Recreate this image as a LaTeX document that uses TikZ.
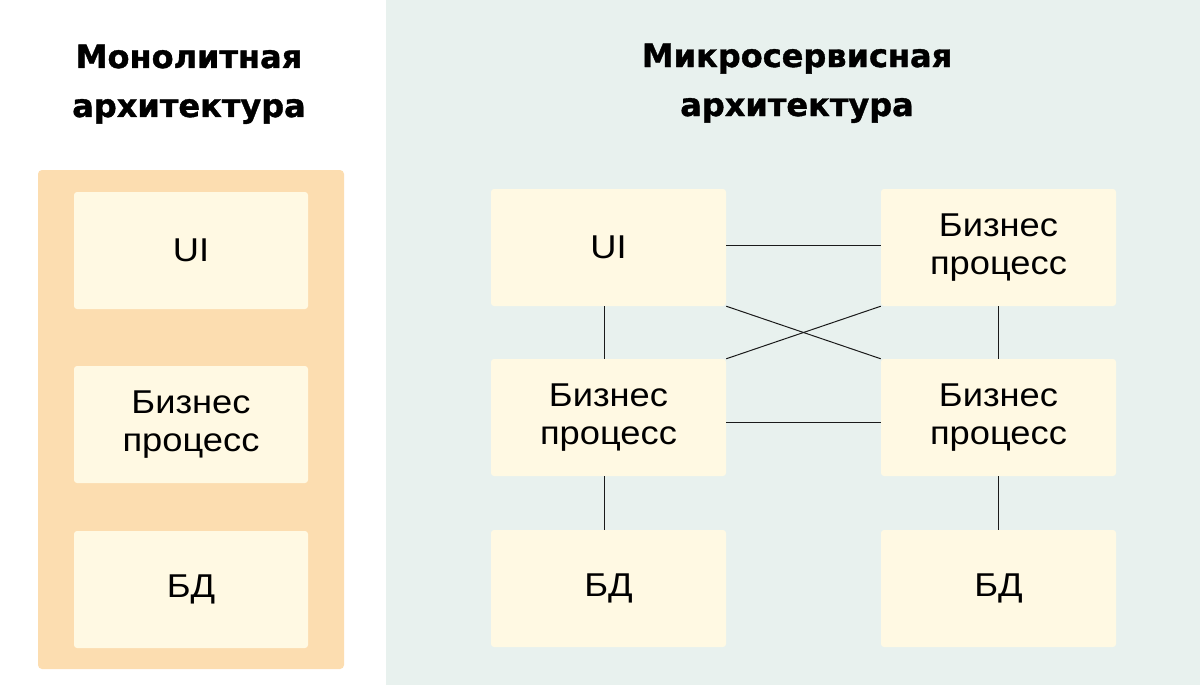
\documentclass[tikz,border=0pt]{standalone}
\usepackage{fontspec}
\setmainfont{Liberation Sans}[FakeStretch=1.1]
\newfontfamily\headfont{DejaVu Sans}[BoldFeatures={FakeBold=1.2}]
\definecolor{panelor}{HTML}{FCDDB0}
\definecolor{boxcream}{HTML}{FFF9E3}
\definecolor{bggreen}{HTML}{E8F1EE}
\definecolor{linec}{HTML}{1A1A1A}
\begin{document}
\begin{tikzpicture}[x=1pt,y=-1pt,
  blk/.style={fill=boxcream, rounded corners=3pt, minimum width=235pt, minimum height=117pt, inner sep=0pt, align=center, font=\fontsize{33}{38}\selectfont},
  head/.style={anchor=base, inner sep=0pt, font=\headfont\bfseries\fontsize{32}{40}\selectfont},
  conn/.style={draw=linec, line width=1pt}]
\useasboundingbox (0,0) rectangle (1200,685);
\fill[white] (0,0) rectangle (1200,685);
\fill[bggreen] (386,0) rectangle (1200,685);
\fill[panelor, rounded corners=4pt] (38,170) rectangle (344,669);
% headings
\node[head] (h1a) at (189,68) {Монолитная};
\node[head] (h1b) at (189,117) {архитектура};
\node[head] (h2a) at (797,67) {Микросервисная};
\node[head] (h2b) at (797,116) {архитектура};
% monolith
\node[blk, minimum width=234pt] (m1) at (191,250.5) {UI};
\node[blk, minimum width=234pt] (m2) at (191,424.5) {Бизнес\\процесс};
\node[blk, minimum width=234pt] (m3) at (191,589.5) {БД};
% microservices
\node[blk] (a1) at (608.5,247.5) {UI};
\node[blk] (b1) at (998.5,247.5) {Бизнес\\процесс};
\node[blk] (a2) at (608.5,417.5) {Бизнес\\процесс};
\node[blk] (b2) at (998.5,417.5) {Бизнес\\процесс};
\node[blk] (a3) at (608.5,588.5) {БД};
\node[blk] (b3) at (998.5,588.5) {БД};
% connectors
\draw[conn] ([yshift=2.5pt]a1.east) -- ([yshift=2.5pt]b1.west);
\draw[conn] ([yshift=-5pt]a2.east) -- ([yshift=-5pt]b2.west);
\draw[conn] ([xshift=-4pt]a1.south) -- ([xshift=-4pt]a2.north);
\draw[conn] (b1.south) -- (b2.north);
\draw[conn] ([xshift=-4pt]a2.south) -- ([xshift=-4pt]a3.north);
\draw[conn] (b2.south) -- (b3.north);
\draw[conn] (a1.south east) -- (b2.north west);
\draw[conn] (b1.south west) -- (a2.north east);
\end{tikzpicture}
\end{document}
